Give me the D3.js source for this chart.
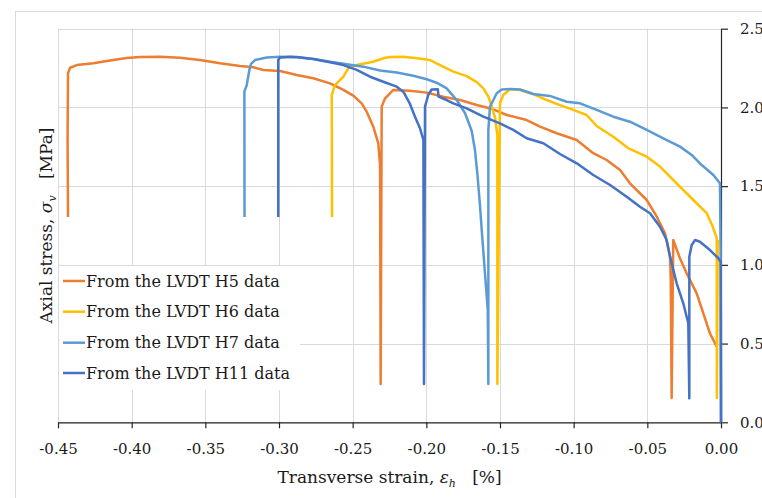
<!DOCTYPE html>
<html>
<head>
<meta charset="utf-8">
<script src="https://cdn.jsdelivr.net/npm/d3@7/dist/d3.min.js"></script>
<style>
  html, body { margin: 0; padding: 0; background: #fff; }
  svg { display: block; }
  text { font-family: "DejaVu Serif", "Liberation Serif", serif; fill: #1a1a1a; }
</style>
</head>
<body>
<svg id="chart" width="762" height="498"></svg>
<script>
// ---------------- data ----------------
const seriesNames = ["From the LVDT H5 data", "From the LVDT H6 data", "From the LVDT H7 data", "From the LVDT H11 data"];
const seriesColors = ["#ED7D31", "#FFC000", "#5B9BD5", "#4472C4"];

const xTickValues = [-0.45, -0.40, -0.35, -0.30, -0.25, -0.20, -0.15, -0.10, -0.05, 0.00];
const xTickLabels = ["-0.45", "-0.40", "-0.35", "-0.30", "-0.25", "-0.20", "-0.15", "-0.10", "-0.05", "0.00"];
const yTickValues = [0.0, 0.5, 1.0, 1.5, 2.0, 2.5];
const yTickLabels = ["0.0", "0.5", "1.0", "1.5", "2.0", "2.5"];

// [transverse strain %, axial stress MPa]
const h5 = [
  [-0.4432,1.304],[-0.4435,1.793],[-0.4432,2.217],[-0.4418,2.252],[-0.4373,2.269],[-0.4260,2.280],
  [-0.4169,2.295],[-0.4034,2.314],[-0.3943,2.320],[-0.3807,2.322],[-0.3672,2.316],[-0.3536,2.301],
  [-0.3400,2.280],[-0.3265,2.263],[-0.3174,2.255],[-0.3106,2.238],[-0.2993,2.231],[-0.2880,2.206],
  [-0.2767,2.185],[-0.2654,2.153],[-0.2563,2.111],[-0.2496,2.075],[-0.2439,2.026],[-0.2405,1.973],
  [-0.2360,1.878],[-0.2326,1.772],[-0.2314,1.634],[-0.2310,0.243],[-0.2303,2.005],[-0.2280,2.058],
  [-0.2224,2.111],[-0.2111,2.106],[-0.1997,2.094],[-0.1885,2.068],[-0.1771,2.047],[-0.1658,2.015],
  [-0.1545,1.988],[-0.1454,1.952],[-0.1319,1.920],[-0.1228,1.878],[-0.1115,1.836],[-0.0979,1.793],
  [-0.0867,1.709],[-0.0776,1.666],[-0.0685,1.603],[-0.0618,1.518],[-0.0504,1.412],[-0.0436,1.306],
  [-0.0380,1.200],[-0.0346,1.052],[-0.0341,0.904],[-0.0335,0.155],[-0.0324,1.158],[-0.0278,1.040],
  [-0.0233,0.946],[-0.0165,0.819],[-0.0120,0.692],[-0.0075,0.565],[-0.0029,0.480]
];
const h6 = [
  [-0.2640,1.304],[-0.2642,2.079],[-0.2620,2.142],[-0.2563,2.195],[-0.2530,2.248],[-0.2473,2.269],
  [-0.2360,2.290],[-0.2292,2.312],[-0.2247,2.320],[-0.2156,2.322],[-0.2065,2.312],[-0.1975,2.301],
  [-0.1907,2.269],[-0.1817,2.227],[-0.1726,2.199],[-0.1658,2.161],[-0.1613,2.121],[-0.1579,2.068],
  [-0.1556,2.005],[-0.1534,1.936],[-0.1518,1.825],[-0.1518,0.243],[-0.1500,2.026],[-0.1478,2.079],
  [-0.1432,2.115],[-0.1364,2.111],[-0.1274,2.085],[-0.1183,2.047],[-0.1093,2.015],[-0.1002,1.984],
  [-0.0912,1.952],[-0.0844,1.882],[-0.0731,1.814],[-0.0631,1.742],[-0.0504,1.687],[-0.0414,1.624],
  [-0.0301,1.518],[-0.0188,1.412],[-0.0097,1.328],[-0.0061,1.253],[-0.0029,1.171],[-0.0028,0.155],
  [-0.0022,1.158]
];
const h7 = [
  [-0.3234,1.304],[-0.3235,2.100],[-0.3219,2.142],[-0.3201,2.238],[-0.3190,2.276],[-0.3163,2.301],
  [-0.3083,2.317],[-0.2993,2.322],[-0.2880,2.318],[-0.2767,2.308],[-0.2654,2.290],[-0.2540,2.274],
  [-0.2428,2.259],[-0.2314,2.234],[-0.2201,2.222],[-0.2088,2.201],[-0.1997,2.179],[-0.1930,2.157],
  [-0.1862,2.121],[-0.1794,2.047],[-0.1737,1.963],[-0.1692,1.850],[-0.1670,1.730],[-0.1653,1.571],
  [-0.1636,1.380],[-0.1624,1.221],[-0.1602,0.946],[-0.1583,0.713],[-0.1579,0.243],[-0.1579,1.857],
  [-0.1568,2.005],[-0.1545,2.047],[-0.1522,2.090],[-0.1488,2.114],[-0.1432,2.117],[-0.1364,2.114],
  [-0.1274,2.085],[-0.1161,2.073],[-0.1047,2.036],[-0.0957,2.026],[-0.0844,1.984],[-0.0731,1.941],
  [-0.0618,1.909],[-0.0504,1.857],[-0.0392,1.804],[-0.0278,1.751],[-0.0199,1.698],[-0.0131,1.634],
  [-0.0052,1.571],[-0.0007,1.518],[-0.0002,1.031],[0.0000,0.000]
];
const h11 = [
  [-0.3005,1.304],[-0.3005,2.301],[-0.2993,2.317],[-0.2925,2.322],[-0.2880,2.320],[-0.2767,2.308],
  [-0.2654,2.287],[-0.2563,2.269],[-0.2473,2.238],[-0.2382,2.195],[-0.2292,2.163],[-0.2201,2.132],
  [-0.2156,2.100],[-0.2111,2.022],[-0.2077,1.941],[-0.2043,1.867],[-0.2020,1.793],[-0.2016,0.243],
  [-0.2009,2.005],[-0.1987,2.079],[-0.1964,2.114],[-0.1922,2.115],[-0.1917,2.068],[-0.1862,2.047],
  [-0.1817,2.026],[-0.1726,1.994],[-0.1613,1.941],[-0.1500,1.899],[-0.1410,1.857],[-0.1319,1.804],
  [-0.1206,1.772],[-0.1093,1.704],[-0.0979,1.645],[-0.0867,1.571],[-0.0753,1.507],[-0.0640,1.433],
  [-0.0550,1.369],[-0.0482,1.328],[-0.0414,1.242],[-0.0369,1.158],[-0.0346,1.052],[-0.0301,0.883],
  [-0.0256,0.756],[-0.0222,0.629],[-0.0215,0.152],[-0.0215,1.052],[-0.0199,1.126],[-0.0176,1.158],
  [-0.0143,1.147],[-0.0075,1.094],[-0.0018,1.042],[-0.0002,1.020],[0.0000,0.000]
];
const seriesData = [h5, h6, h7, h11];

// ---------------- layout ----------------
const svg = d3.select("#chart");
const plot = { left: 58, right: 721, top: 28.7, bottom: 422.3 };

const x = d3.scaleLinear().domain([-0.45, 0]).range([plot.left, plot.right]);
const y = d3.scaleLinear().domain([0, 2.5]).range([plot.bottom, plot.top]);

// outer chart-area border
svg.append("rect")
  .attr("x", 15.5).attr("y", 11.5).attr("width", 900).attr("height", 700)
  .attr("fill", "#fff").attr("stroke", "#d9d9d9").attr("stroke-width", 1);

// gridlines
const grid = svg.append("g");
grid.selectAll("line.v").data(xTickValues).join("line")
  .attr("x1", d => Math.round(x(d)) + 0.5).attr("x2", d => Math.round(x(d)) + 0.5)
  .attr("y1", plot.top).attr("y2", plot.bottom)
  .attr("stroke", "#d9d9d9").attr("stroke-width", 1);
grid.selectAll("line.h").data(yTickValues).join("line")
  .attr("x1", plot.left).attr("x2", plot.right)
  .attr("y1", d => Math.round(y(d)) + 0.5).attr("y2", d => Math.round(y(d)) + 0.5)
  .attr("stroke", "#d9d9d9").attr("stroke-width", 1);

// x axis (bottom)
const xAxis = d3.axisBottom(x).tickValues(xTickValues)
  .tickFormat((d, i) => xTickLabels[i]).tickSizeInner(6).tickSizeOuter(0).tickPadding(15);
const gx = svg.append("g").attr("transform", `translate(0,${plot.bottom})`).call(xAxis);
gx.select(".domain").attr("stroke", "#262626").attr("stroke-width", 1.2);
gx.selectAll(".tick line").attr("stroke", "#262626").attr("stroke-width", 1.2);
gx.selectAll(".tick text").attr("font-family", "DejaVu Serif").attr("font-size", 15).attr("fill", "#1a1a1a");

// y axis (right)
const yAxis = d3.axisRight(y).tickValues(yTickValues)
  .tickFormat((d, i) => yTickLabels[i]).tickSizeInner(7).tickSizeOuter(0).tickPadding(12);
const gy = svg.append("g").attr("transform", `translate(${plot.right},0)`).call(yAxis);
gy.select(".domain").attr("stroke", "#262626").attr("stroke-width", 1.2);
gy.selectAll(".tick line").attr("stroke", "#262626").attr("stroke-width", 1.2);
gy.selectAll(".tick text").attr("font-family", "DejaVu Serif").attr("font-size", 15).attr("fill", "#1a1a1a");

// series
const line = d3.line().x(d => x(d[0])).y(d => y(d[1]));
svg.append("g").selectAll("path").data(seriesData).join("path")
  .attr("d", line)
  .attr("fill", "none")
  .attr("stroke", (d, i) => seriesColors[i])
  .attr("stroke-width", 2.5)
  .attr("stroke-linejoin", "round")
  .attr("stroke-linecap", "butt");

// legend
const legend = svg.append("g");
legend.append("rect").attr("x", plot.left + 1).attr("y", 266).attr("width", 241).attr("height", 124).attr("fill", "#fff");
const legendRowY = [281, 311.7, 342.7, 373];
const rows = legend.selectAll("g.row").data(seriesNames).join("g")
  .attr("transform", (d, i) => `translate(0,${legendRowY[i]})`);
rows.append("line").attr("x1", 63).attr("x2", 85).attr("y1", 0).attr("y2", 0)
  .attr("stroke", (d, i) => seriesColors[i]).attr("stroke-width", 2.5);
rows.append("text").attr("x", 86).attr("y", 0).attr("dy", "0.36em")
  .attr("font-size", 16).text(d => d);

// axis titles
const xt = svg.append("text")
  .attr("x", (plot.left + plot.right) / 2).attr("y", 483)
  .attr("text-anchor", "middle").attr("font-size", 17)
  .style("white-space", "pre");
xt.append("tspan").text("Transverse strain, ");
xt.append("tspan").attr("font-style", "italic").text("ε");
xt.append("tspan").attr("font-style", "italic").attr("font-size", 11).attr("dy", 4).text("h");
xt.append("tspan").attr("dy", -4).text("   [%]");

const yt = svg.append("text")
  .attr("transform", `translate(51.5,${(plot.top + plot.bottom) / 2}) rotate(-90)`)
  .attr("text-anchor", "middle").attr("font-size", 17)
  .style("white-space", "pre");
yt.append("tspan").text("Axial stress, ");
yt.append("tspan").attr("font-style", "italic").text("σ");
yt.append("tspan").attr("font-style", "italic").attr("font-size", 11).attr("dy", 4).text("v");
yt.append("tspan").attr("dy", -4).text("   [MPa]");
</script>
</body>
</html>
